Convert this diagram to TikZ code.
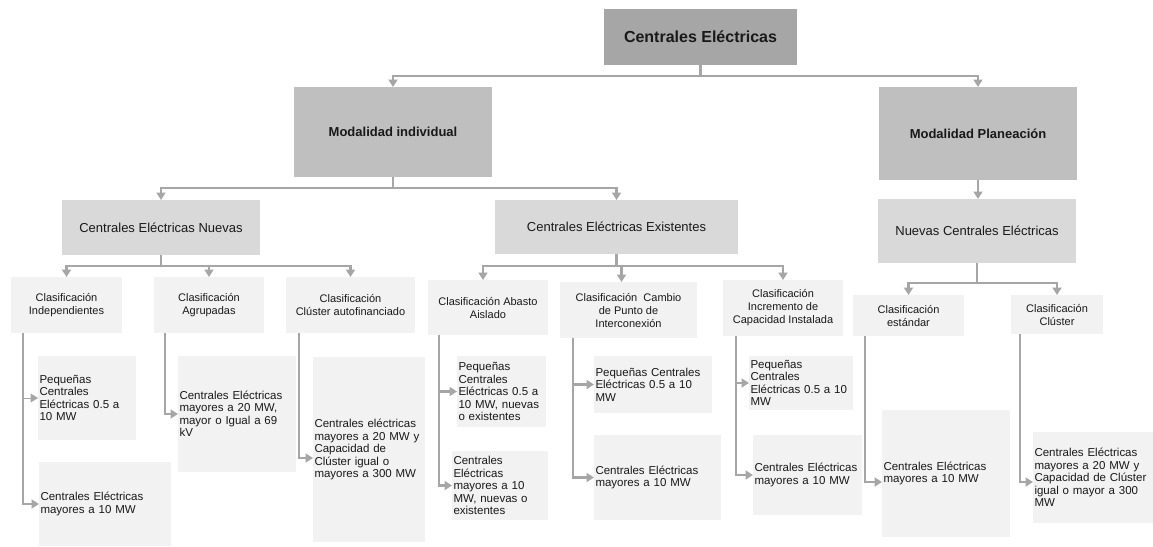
\documentclass[tikz,border=0pt]{standalone}
\usepackage{fontspec}
\setmainfont{Liberation Sans}
\usetikzlibrary{arrows.meta}
\definecolor{lnc}{HTML}{A6A6A6}
\definecolor{cz}{HTML}{A6A6A6}
\definecolor{ca}{HTML}{BFBFBF}
\definecolor{cb}{HTML}{D9D9D9}
\definecolor{cc}{HTML}{F2F2F2}
\begin{document}
\begin{tikzpicture}[x=1pt,y=-1pt,
  box/.style={anchor=north west, inner sep=0pt, outer sep=0pt, align=center, text=black!90},
  lz/.style={box, fill=cz, font=\fontsize{16}{19}\selectfont\bfseries},
  la/.style={box, fill=ca, font=\fontsize{13}{15}\selectfont\bfseries},
  lb/.style={box, fill=cb, font=\fontsize{13}{15}\selectfont},
  lc/.style={box, fill=cc, font=\fontsize{11}{13}\selectfont},
  ld/.style={box, fill=cc, align=left, inner xsep=1.5pt, font=\fontsize{11.5}{12.5}\selectfont},
  conn/.style={draw=lnc, line width=2.6pt},
  arr/.style={conn, -{Triangle[width=9pt,length=7.5pt]}},
]
\useasboundingbox (0,0) rectangle (1153,546);
\fill[white] (0,0) rectangle (1153,546);

% level 0 and 1
\node[lz, minimum width=193, minimum height=56] (top) at (604,9) {Centrales Eléctricas};
\node[la, minimum width=198, minimum height=90] (mi) at (294,87) {Modalidad individual};
\node[la, minimum width=198, minimum height=93] (mp) at (879,87) {Modalidad Planeación};

% level 2
\node[lb, minimum width=198, minimum height=55] (nue) at (62,200) {Centrales Eléctricas Nuevas};
\node[lb, minimum width=243, minimum height=54] (exi) at (495,200) {Centrales Eléctricas Existentes};
\node[lb, minimum width=198, minimum height=64] (nce) at (878,199) {Nuevas Centrales Eléctricas};

% level 3
\node[lc, minimum width=111, minimum height=56] (ind) at (11,277) {Clasificación\\Independientes};
\node[lc, minimum width=110, minimum height=56] (agr) at (154,277) {Clasificación\\Agrupadas};
\node[lc, minimum width=129, minimum height=56] (cla) at (286,277) {Clasificación\\Clúster autofinanciado};
\node[lc, minimum width=120, minimum height=55] (aba) at (428,280) {Clasificación Abasto\\Aislado};
\node[lc, minimum width=137, minimum height=56] (cam) at (560,282) {Clasificación\ \ Cambio\\de Punto de\\Interconexión};
\node[lc, minimum width=120, minimum height=56] (inc) at (723,280) {Clasificación\\Incremento de\\Capacidad Instalada};
\node[lc, minimum width=111, minimum height=41] (est) at (853,295) {Clasificación\\estándar};
\node[lc, minimum width=92, minimum height=39] (clu) at (1011,295) {Clasificación\\Clúster};

% level 4
\node[ld, text width=95, minimum height=84] (ind1) at (38,356) {Pequeñas\\Centrales\\Eléctricas 0.5 a\\10 MW};
\node[ld, text width=129, minimum height=84] (ind2) at (39,462) {Centrales Eléctricas\\mayores a 10 MW};
\node[ld, text width=115, minimum height=116] (agr1) at (178,356) {Centrales Eléctricas\\mayores a 20 MW,\\mayor o Igual a 69\\kV};
\node[ld, text width=109, minimum height=185] (cla1) at (313,357) {Centrales eléctricas\\mayores a 20 MW y\\Capacidad de\\Clúster igual o\\mayores a 300 MW};
\node[ld, text width=86, minimum height=71] (aba1) at (457,356) {Pequeñas\\Centrales\\Eléctricas 0.5 a\\10 MW, nuevas\\o existentes};
\node[ld, text width=93, minimum height=69] (aba2) at (452,451) {Centrales\\Eléctricas\\mayores a 10\\MW, nuevas o\\existentes};
\node[ld, text width=115, minimum height=57] (cam1) at (594,356) {Pequeñas Centrales\\Eléctricas 0.5 a 10\\MW};
\node[ld, text width=124, minimum height=85] (cam2) at (594,435) {Centrales Eléctricas\\mayores a 10 MW};
\node[ld, text width=101, minimum height=54] (inc1) at (749,356) {Pequeñas\\Centrales\\Eléctricas 0.5 a 10\\MW};
\node[ld, text width=106, minimum height=80] (inc2) at (753,435) {Centrales Eléctricas\\mayores a 10 MW};
\node[ld, text width=125, minimum height=127] (est1) at (882,410) {Centrales Eléctricas\\mayores a 10 MW};
\node[ld, text width=117, minimum height=91] (clu1) at (1033,432) {Centrales Eléctricas\\mayores a 20 MW y\\Capacidad de Clúster\\igual o mayor a 300\\MW};

% connectors level 0 -> 1
\draw[conn] (top.south) -- ++(0,11) coordinate (j0);
\draw[arr] (j0) -| (mi.north);
\draw[arr] (j0) -| (mp.north);

% level 1 -> 2
\draw[conn] (mi.south) -- ++(0,11) coordinate (j1);
\draw[arr] (j1) -| (nue.north);
\draw[arr] (j1) -| (exi.north);
\draw[arr] (mp.south) -- (mp.south |- nce.north);

% level 2 -> 3
\draw[conn] (nue.south) -- ++(0,11) coordinate (j2);
\draw[arr] (j2) -| (ind.north);
\draw[arr] (j2) -| (agr.north);
\draw[arr] (j2) -| (cla.north);
\draw[conn] (exi.south) -- ++(0,12) coordinate (j3);
\draw[arr] (j3) -| ([xshift=-5pt]aba.north);
\draw[arr] (j3) -| ([xshift=-7pt]cam.north);
\draw[arr] (j3) -| (inc.north);
\draw[conn] (nce.south) -- ++(0,20) coordinate (j4);
\draw[arr] (j4) -| (est.north);
\draw[arr] (j4) -| (clu.north);

% level 3 -> 4
\draw[arr, line width=1pt] ([xshift=12pt]ind.south west) |- (ind1.west);
\draw[arr] ([xshift=12pt]ind.south west) |- (ind2.west);
\draw[arr] ([xshift=11pt]agr.south west) |- (agr1.west);
\draw[arr] ([xshift=13pt]cla.south west) |- ([yshift=-8.5pt]cla1.west);
\draw[arr] ([xshift=11pt]aba.south west) |- (aba1.west);
\draw[arr] ([xshift=11pt]aba.south west) |- (aba2.west);
\draw[arr] ([xshift=13pt]cam.south west) |- (cam1.west);
\draw[arr] ([xshift=13pt]cam.south west) |- (cam2.west);
\draw[arr] ([xshift=13pt]inc.south west) |- (inc1.west);
\draw[arr] ([xshift=13pt]inc.south west) |- (inc2.west);
\draw[arr] ([xshift=12pt]est.south west) |- ([yshift=-8.5pt]est1.west);
\draw[arr] ([xshift=9pt]clu.south west) |- ([yshift=-4.5pt]clu1.west);
\end{tikzpicture}
\end{document}
